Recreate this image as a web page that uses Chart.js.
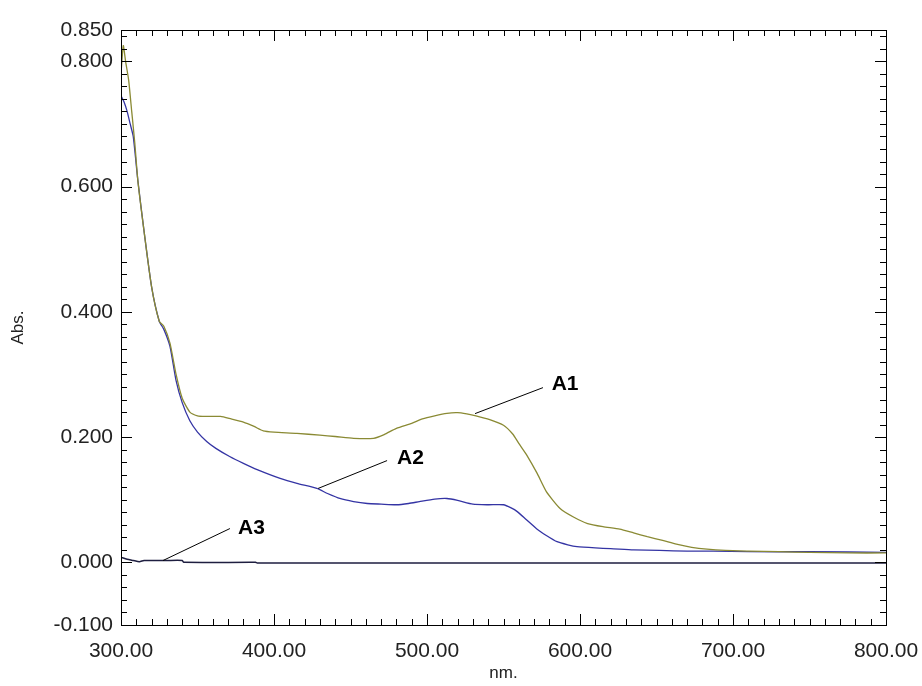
<!DOCTYPE html>
<html>
<head>
<meta charset="utf-8">
<script src="https://cdn.jsdelivr.net/npm/chart.js@4"></script>
<style>
  html, body { margin: 0; padding: 0; background: #fff; }
  #wrap { width: 922px; height: 686px; }
</style>
</head>
<body>
<div id="wrap"><canvas id="specChart" width="922" height="686"></canvas></div>
<script>
// Spectrum data (nm -> Abs.)
const a1Nm  = [300, 301.5, 303, 305, 307, 309, 311, 315, 320, 325, 328, 332, 336, 340, 345, 350, 355, 365, 372, 380, 387, 393, 400, 415, 430, 440, 452, 465, 472, 480, 490, 497, 505, 513, 520, 526, 532, 541, 550, 556, 560, 565, 572, 578, 587, 596, 605, 615, 626, 635, 644, 654, 663, 673, 683, 695, 710, 730, 750, 775, 800];
const a1Abs = [0.78, 0.825, 0.80, 0.77, 0.72, 0.67, 0.61, 0.53, 0.44, 0.385, 0.377, 0.35, 0.30, 0.262, 0.24, 0.234, 0.233, 0.233, 0.229, 0.224, 0.217, 0.210, 0.208, 0.206, 0.203, 0.201, 0.198, 0.198, 0.204, 0.214, 0.222, 0.229, 0.234, 0.238, 0.239, 0.237, 0.234, 0.228, 0.219, 0.205, 0.19, 0.172, 0.142, 0.113, 0.086, 0.072, 0.062, 0.057, 0.053, 0.047, 0.041, 0.035, 0.029, 0.024, 0.021, 0.019, 0.018, 0.017, 0.016, 0.015, 0.015];

const a2Nm  = [300, 302, 304, 306, 308, 311, 315, 320, 325, 328, 332, 336, 340, 345, 350, 356, 362, 371, 380, 389, 404, 415, 428, 435, 443, 452, 461, 470, 480, 488, 495, 505, 513, 520, 530, 540, 550, 555, 559, 565, 572, 578, 585, 592, 598, 610, 620, 635, 652, 670, 687, 710, 750, 800];
const a2Abs = [0.745, 0.735, 0.72, 0.70, 0.68, 0.61, 0.53, 0.44, 0.385, 0.372, 0.345, 0.29, 0.255, 0.226, 0.208, 0.193, 0.182, 0.169, 0.158, 0.148, 0.134, 0.126, 0.118, 0.110, 0.102, 0.097, 0.094, 0.093, 0.092, 0.094, 0.097, 0.101, 0.102, 0.099, 0.093, 0.092, 0.092, 0.087, 0.081, 0.068, 0.053, 0.043, 0.033, 0.028, 0.025, 0.023, 0.022, 0.020, 0.019, 0.018, 0.018, 0.017, 0.017, 0.016];

const a3Nm  = [300, 304, 308, 312, 315, 320, 330, 340, 341, 388, 389, 500, 600, 700, 800];
const a3Abs = [0.008, 0.005, 0.003, 0.001, 0.003, 0.003, 0.003, 0.003, 0.000, 0.000, -0.001, -0.001, -0.001, -0.001, -0.001];

// Y tick labels shown on the axis
const yTickValues = [-0.1, 0.0, 0.2, 0.4, 0.6, 0.8, 0.85];

// Curve labels: text anchor and leader line ends (nm, Abs.)
const labelNames  = ['A1', 'A2', 'A3'];
const labelAt     = [[581.5, 0.284], [480.4, 0.167], [376.5, 0.054]];
const leaderFrom  = [[531.4, 0.2375], [428.8, 0.118], [327.5, 0.003]];
const leaderTo    = [[575.8, 0.279], [473.9, 0.1625], [371.2, 0.054]];

const toPoints = (xs, ys) => xs.map((x, i) => ({ x: x, y: ys[i] }));

const FONT = "'Liberation Sans', Arial, sans-serif";

// Box frame with inward ticks on all four sides + curve labels
const frameAndLabels = {
    id: 'frameAndLabels',
    afterDraw(chart) {
        const ctx = chart.ctx;
        const xs = chart.scales.x, ys = chart.scales.y;
        const area = chart.chartArea;
        ctx.save();
        ctx.strokeStyle = '#000';
        ctx.lineWidth = 1;
        ctx.beginPath();
        ctx.rect(Math.round(area.left) + 0.5, Math.round(area.top) + 0.5,
                 Math.round(area.right - area.left), Math.round(area.bottom - area.top));
        ctx.stroke();

        // x ticks every 10 nm
        for (let v = 300; v <= 800; v += 10) {
            const px = Math.round(xs.getPixelForValue(v)) + 0.5;
            const len = (v % 100 === 0) ? 11 : 6;
            ctx.beginPath();
            ctx.moveTo(px, area.bottom); ctx.lineTo(px, area.bottom - len);
            ctx.moveTo(px, area.top);    ctx.lineTo(px, area.top + len);
            ctx.stroke();
        }
        // y ticks every 0.02
        for (let k = 0; k <= 47; k++) {
            const v = -0.1 + k * 0.02;
            const py = Math.round(ys.getPixelForValue(v)) + 0.5;
            const major = Math.abs(Math.round(v * 100) % 20) === 0 && v > -0.05;
            const len = major ? 11 : 6;
            ctx.beginPath();
            ctx.moveTo(area.left, py);  ctx.lineTo(area.left + len, py);
            ctx.moveTo(area.right, py); ctx.lineTo(area.right - len, py);
            ctx.stroke();
        }

        // curve labels
        ctx.font = 'bold 21px ' + FONT;
        ctx.fillStyle = '#000';
        ctx.textAlign = 'left';
        ctx.textBaseline = 'middle';
        labelNames.forEach((name, i) => {
            ctx.beginPath();
            ctx.moveTo(xs.getPixelForValue(leaderFrom[i][0]), ys.getPixelForValue(leaderFrom[i][1]));
            ctx.lineTo(xs.getPixelForValue(leaderTo[i][0]), ys.getPixelForValue(leaderTo[i][1]));
            ctx.stroke();
            ctx.fillText(name, xs.getPixelForValue(labelAt[i][0]), ys.getPixelForValue(labelAt[i][1]));
        });
        ctx.restore();
    }
};

new Chart(document.getElementById('specChart'), {
    type: 'line',
    data: {
        datasets: [
            { label: 'A1', data: toPoints(a1Nm, a1Abs), borderColor: '#8a8a34', borderWidth: 1.3 },
            { label: 'A2', data: toPoints(a2Nm, a2Abs), borderColor: '#3434a4', borderWidth: 1.3 },
            { label: 'A3', data: toPoints(a3Nm, a3Abs), borderColor: '#1e1e40', borderWidth: 1.5 }
        ]
    },
    options: {
        responsive: false,
        animation: false,
        elements: { point: { radius: 0 }, line: { tension: 0.2 } },
        layout: { padding: { left: 0, right: 36, top: 30, bottom: 0 } },
        plugins: { legend: { display: false }, tooltip: { enabled: false } },
        scales: {
            x: {
                type: 'linear',
                min: 300, max: 800,
                afterFit(scale) {
                    scale.height = 61;
                    scale.paddingRight = 0;
                    scale.paddingLeft = 0;
                },
                grid: { display: false, drawTicks: false },
                border: { display: true, color: '#000' },
                ticks: {
                    stepSize: 100, padding: 14, color: '#222',
                    font: { family: FONT, size: 21 },
                    maxRotation: 0,
                    callback: v => Number(v).toFixed(2)
                },
                title: {
                    display: true, text: 'nm.', color: '#222',
                    font: { family: FONT, size: 17 },
                    padding: { top: 0, bottom: 2 }
                }
            },
            y: {
                type: 'linear',
                min: -0.1, max: 0.85,
                afterFit(scale) { scale.width = 121; },
                afterBuildTicks(scale) { scale.ticks = yTickValues.map(v => ({ value: v })); },
                grid: { display: false, drawTicks: false },
                border: { display: true, color: '#000' },
                ticks: {
                    padding: 8, color: '#222',
                    font: { family: FONT, size: 21 },
                    callback: v => Number(v).toFixed(3)
                },
                title: {
                    display: true, text: 'Abs.', color: '#222',
                    font: { family: FONT, size: 17 },
                    padding: { top: 8, bottom: 0 }
                }
            }
        }
    },
    plugins: [frameAndLabels]
});
</script>
</body>
</html>
